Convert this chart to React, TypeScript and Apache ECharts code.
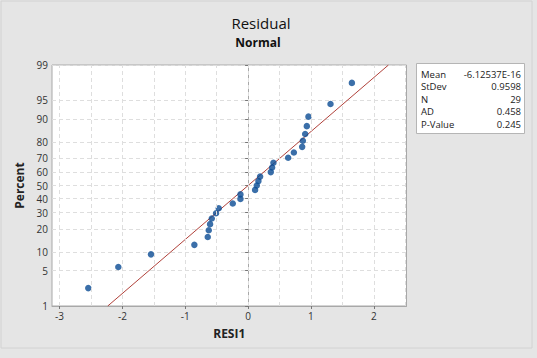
import React, { useEffect, useRef } from "react";
import * as echarts from "echarts";

// Sorted residuals (RESI1)
const residuals: number[] = [
  -2.543, -2.065, -1.545, -0.855, -0.642, -0.626, -0.605, -0.578, -0.51, -0.467,
  -0.244, -0.122, -0.122, 0.111, 0.138, 0.164, 0.191, 0.361, 0.382, 0.403,
  0.637, 0.728, 0.86, 0.871, 0.908, 0.934, 0.96, 1.311, 1.651,
];
const percentTicks: number[] = [1, 5, 10, 20, 30, 40, 50, 60, 70, 80, 90, 95, 99];
const xTicks: number[] = [-3, -2, -1, 0, 1, 2];
const xGrid: number[] = [-3, -2.5, -2, -1.5, -1, -0.5, 0, 0.5, 1, 1.5, 2, 2.5];
const fitMean = 0;
const fitStDev = 0.9598;
const statLabels: string[] = ["Mean", "StDev", "N", "AD", "P-Value"];
const statValues: string[] = ["-6.12537E-16", "0.9598", "29", "0.458", "0.245"];

// inverse standard normal CDF (Acklam) - probability-scale transform
function invNorm(p: number): number {
  const a = [-39.69683028665376, 220.9460984245205, -275.9285104469687, 138.357751867269, -30.66479806614716, 2.506628277459239];
  const b = [-54.47609879822406, 161.5858368580409, -155.6989798598866, 66.80131188771972, -13.28068155288572];
  const c = [-0.007784894002430293, -0.3223964580411365, -2.400758277161838, -2.549732539343734, 4.374664141464968, 2.938163982698783];
  const d = [0.007784695709041462, 0.3224671290700398, 2.445134137142996, 3.754408661907416];
  const pl = 0.02425;
  let q: number, r: number;
  if (p < pl) {
    q = Math.sqrt(-2 * Math.log(p));
    return (((((c[0] * q + c[1]) * q + c[2]) * q + c[3]) * q + c[4]) * q + c[5]) / ((((d[0] * q + d[1]) * q + d[2]) * q + d[3]) * q + 1);
  } else if (p <= 1 - pl) {
    q = p - 0.5;
    r = q * q;
    return ((((((a[0] * r + a[1]) * r + a[2]) * r + a[3]) * r + a[4]) * r + a[5]) * q) / (((((b[0] * r + b[1]) * r + b[2]) * r + b[3]) * r + b[4]) * r + 1);
  } else {
    q = Math.sqrt(-2 * Math.log(1 - p));
    return -(((((c[0] * q + c[1]) * q + c[2]) * q + c[3]) * q + c[4]) * q + c[5]) / ((((d[0] * q + d[1]) * q + d[2]) * q + d[3]) * q + 1);
  }
}

const FONT = "'Open Sans', 'Noto Sans', sans-serif";

export default function App() {
  const ref = useRef<HTMLDivElement>(null);
  useEffect(() => {
    if (!ref.current) return;
    const chart = echarts.init(ref.current, null, { renderer: "svg" });
    const n = residuals.length;
    const points = residuals.map((v, i) => [v, invNorm((i + 1 - 0.3) / (n + 0.4))]);
    const zTicks = percentTicks.map((p) => invNorm(p / 100));
    const zMin = invNorm(0.01);
    const zMax = invNorm(0.99);
    const fitLine = [
      [fitMean + fitStDev * zMin, zMin],
      [fitMean + fitStDev * zMax, zMax],
    ];
    const labelFor = (v: number) => {
      let best = 0;
      let bd = Infinity;
      zTicks.forEach((z, i) => {
        const dd = Math.abs(z - v);
        if (dd < bd) { bd = dd; best = i; }
      });
      return String(percentTicks[best]);
    };
    const gridDash = { color: "#dedede", type: [4, 3] as any, width: 1 };

    const statText: any[] = [];
    statLabels.forEach((l, i) => {
      statText.push({
        type: "text", x: 421, y: 74 + i * 12.6,
        style: { text: l, fontSize: 9.5, fontFamily: FONT, fill: "#222", textVerticalAlign: "middle", textAlign: "left" },
      });
      statText.push({
        type: "text", x: 521, y: 74 + i * 12.6,
        style: { text: statValues[i], fontSize: 9.5, fontFamily: FONT, fill: "#222", textVerticalAlign: "middle", textAlign: "right" },
      });
    });

    chart.setOption({
      animation: false,
      backgroundColor: "#e5e5e5",
      grid: {
        left: 52, top: 65, right: 130.5, bottom: 52,
        show: true, backgroundColor: "#ffffff", borderColor: "#a8a8a8", borderWidth: 1,
      },
      xAxis: {
        type: "value", min: -3.12, max: 2.52,
        name: "RESI1", nameLocation: "middle", nameGap: 21,
        nameTextStyle: { fontSize: 12, fontWeight: "bold", fontFamily: FONT, color: "#222" },
        axisLine: { show: true, onZero: false, lineStyle: { color: "#a8a8a8" } },
        axisTick: { show: true, customValues: xTicks, length: 3, lineStyle: { color: "#777" } },
        axisLabel: { customValues: xTicks, fontSize: 10, fontFamily: FONT, color: "#333", margin: 5 },
        splitLine: { show: false },
      },
      yAxis: {
        type: "value", min: zMin, max: zMax,
        name: "Percent", nameLocation: "middle", nameGap: 27,
        nameTextStyle: { fontSize: 12, fontWeight: "bold", fontFamily: FONT, color: "#222" },
        axisLine: { show: true, lineStyle: { color: "#a8a8a8" } },
        axisTick: { show: true, customValues: zTicks, length: 3, lineStyle: { color: "#777" } },
        axisLabel: { customValues: zTicks, formatter: labelFor, fontSize: 10, fontFamily: FONT, color: "#333", margin: 4 },
        splitLine: { show: true, lineStyle: gridDash },
      },
      graphic: [
        { type: "rect", shape: { x: 1, y: 1, width: 531, height: 347 }, style: { fill: "none", stroke: "#d2d2d2", lineWidth: 1 }, silent: true },
        { type: "text", x: 261, y: 23, style: { text: "Residual", fontSize: 15, fontWeight: 500, fontFamily: FONT, fill: "#111", textAlign: "center", textVerticalAlign: "middle" } },
        { type: "text", x: 258, y: 42, style: { text: "Normal", fontSize: 12, fontWeight: "bold", fontFamily: FONT, fill: "#111", textAlign: "center", textVerticalAlign: "middle" } },
        { type: "rect", shape: { x: 416.5, y: 63.5, width: 108, height: 70 }, style: { fill: "#ffffff", stroke: "#b5b5b5", lineWidth: 1 } },
        ...statText,
      ],
      series: [
        {
          type: "line", data: [],
          markLine: {
            silent: true, symbol: "none", label: { show: false },
            lineStyle: gridDash,
            data: xGrid.map((x) => ({ xAxis: x })),
          },
        },
        {
          type: "line", data: fitLine, showSymbol: false, symbol: "none",
          lineStyle: { color: "#b0413a", width: 1 }, z: 3,
        },
        {
          type: "scatter", data: points, symbol: "circle", symbolSize: 6.5,
          itemStyle: { color: "#0a4b94" }, z: 4,
        },
      ],
    });
    return () => chart.dispose();
  }, []);
  return <div ref={ref} style={{ position: "fixed", left: 0, top: 0, width: 537, height: 358 }} />;
}
